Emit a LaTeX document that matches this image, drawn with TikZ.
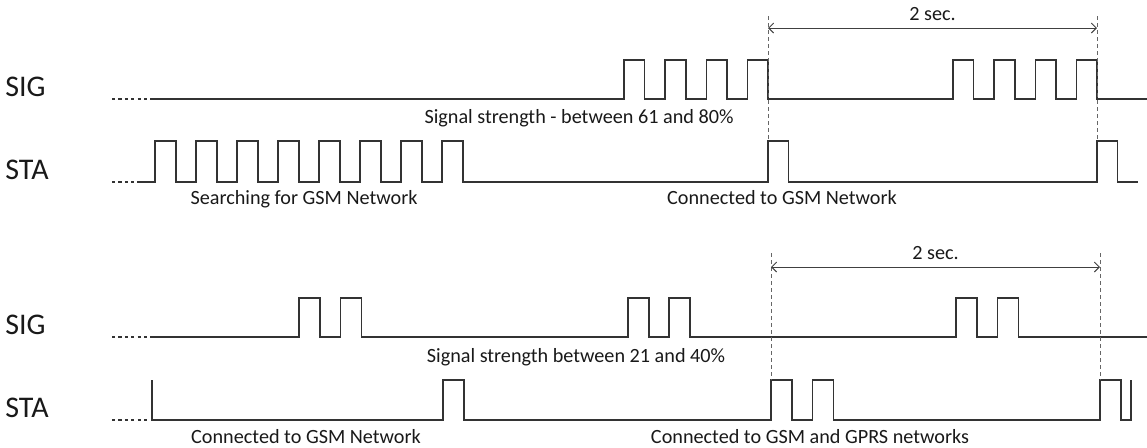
\documentclass[tikz,border=0pt]{standalone}
\usepackage{fontspec}
\setmainfont{Carlito}
\usetikzlibrary{arrows.meta}

\begin{document}
\begin{tikzpicture}[x=0.5pt,y=-0.5pt,
	wave/.style={line width=0.8pt,draw=black!80},
	lead/.style={line width=0.8pt,draw=black!80,dash pattern=on 1.6pt off 1.6pt},
	guide/.style={line width=0.4pt,draw=black!60,dash pattern=on 2pt off 1.5pt},
	dimline/.style={line width=0.45pt,draw=black!75,{Straight Barb[length=2.5pt,width=5pt]}-{Straight Barb[length=2.5pt,width=5pt]}},
	sigl/.style={anchor=base west,inner sep=0pt,font=\fontsize{15}{18}\selectfont,text=black!90},
	note/.style={anchor=base,inner sep=0pt,font=\fontsize{10.1}{12}\selectfont,text=black!90}]
	\useasboundingbox (0,0) rectangle (1147,447);
	\node[sigl] (sig1) at (5,96) {SIG};
	\node[sigl] (sta1) at (5,179) {STA};
	\node[sigl] (sig2) at (5,334) {SIG};
	\node[sigl] (sta2) at (5,417) {STA};
	\draw[lead] (112,99) -- (152,99);
	\draw[wave] (152,99) -- (624,99)
		\foreach \x in {624,665.2,706.4,747.5} {-- (\x,99) -- (\x,60) -- (\x+20.5,60) -- (\x+20.5,99)}
		-- (953,99)
		\foreach \x in {953,994.2,1035.4,1076.5} {-- (\x,99) -- (\x,60) -- (\x+20.5,60) -- (\x+20.5,99)}
		-- (1147,99);
	\draw[lead] (112,182) -- (137,182);
	\draw[wave] (137,182)
		\foreach \x in {155,196,237,278,319,360,401,442} {-- (\x,182) -- (\x,141) -- (\x+21,141) -- (\x+21,182)}
		-- (768,182) -- (768,141) -- (788.5,141) -- (788.5,182)
		-- (1097,182) -- (1097,141) -- (1117.5,141) -- (1117.5,182) -- (1138,182);
	\draw[lead] (112,337) -- (152,337);
	\draw[wave] (152,337)
		\foreach \x in {299,340.5,628,669,956,997.5} {-- (\x,337) -- (\x,298) -- (\x+21,298) -- (\x+21,337)}
		-- (1147,337);
	\draw[lead] (112,420) -- (149,420);
	\draw[wave] (152,380) -- (152,420) -- (443,420) -- (443,380) -- (464,380) -- (464,420)
		\foreach \x in {771,812.5} {-- (\x,420) -- (\x,380) -- (\x+21,380) -- (\x+21,420)}
		-- (1100,420) -- (1100,380) -- (1121,380) -- (1121,420) -- (1131,420) -- (1131,380);
	\coordinate (g1) at (768,16);
	\coordinate (g2) at (1097,16);
	\coordinate (g3) at (771,253);
	\coordinate (g4) at (1100,253);
	\draw[guide] (g1) -- (768,141);
	\draw[guide] (g2) -- (1097,141);
	\draw[guide] (g3) -- (771,380);
	\draw[guide] (g4) -- (1100,380);
	\coordinate (a1) at (768,28);
	\coordinate (b1) at (1097,28);
	\coordinate (a2) at (771,267);
	\coordinate (b2) at (1100,267);
	\draw[dimline] (a1) -- (b1) node[note,midway,yshift=4pt] (d1) {2 sec.};
	\draw[dimline] (a2) -- (b2) node[note,midway,yshift=4pt] (d2) {2 sec.};
	\node[note] (n1) at (579,123) {Signal strength - between 61 and 80\%};
	\node[note] (n2) at (304,204) {Searching for GSM Network};
	\node[note] (n3) at (782,204) {Connected to GSM Network};
	\node[note] (n4) at (576,362) {Signal strength between 21 and 40\%};
	\node[note] (n5) at (306,443) {Connected to GSM Network};
	\node[note] (n6) at (810,443) {Connected to GSM and GPRS networks};
\end{tikzpicture}
\end{document}
